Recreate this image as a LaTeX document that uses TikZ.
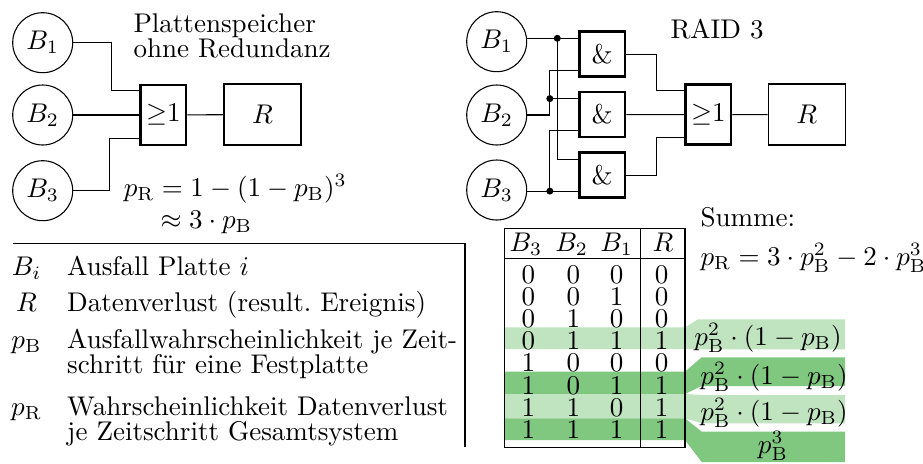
\documentclass[tikz,border=0pt]{standalone}
\usepackage{amsmath,amssymb}
\usepackage{xcolor}
\usepackage{tikz}
\usetikzlibrary{calc}
\definecolor{ink}{HTML}{000000}
\definecolor{bandLight}{HTML}{C0E4BF}
\definecolor{bandDark}{HTML}{80C77F}
\tikzset{
  diskCircle/.style={circle, draw=ink, line width=0.4pt, minimum size=22.2pt, inner sep=0pt},
  gateBox/.style={rectangle, draw=ink, line width=1pt, minimum width=16.9pt, minimum height=22.2pt, inner sep=0pt},
  andBox/.style={gateBox, minimum height=16.65pt},
  eventBox/.style={rectangle, draw=ink, line width=0.5pt, minimum width=28.5pt, minimum height=22.6pt, inner sep=0pt},
  wire/.style={draw=ink, line width=0.4pt},
  wireDot/.style={fill=ink},
  plainText/.style={inner sep=0pt, anchor=base west},
  tabCell/.style={inner sep=0pt, anchor=base}
}

\begin{document}
\begin{tikzpicture}[x=0.37pt,y=-0.37pt]
  \useasboundingbox (0,0) rectangle (923,463);

  % Plattenspeicher ohne Redundanz
  \node[diskCircle] (B1L) at (42.7,42.7) {$B_1$};
  \node[diskCircle] (B2L) at (42.7,115) {$B_2$};
  \node[diskCircle] (B3L) at (42.7,190.7) {$B_3$};
  \node[gateBox] (OR1) at (163.3,115) {${\geq}1$};
  \node[eventBox] (R1) at (262.5,114.5) {$R$};
  \coordinate (OR1in1) at ($(OR1.north west)!0.11!(OR1.south west)$);
  \coordinate (OR1in2) at ($(OR1.north west)!0.87!(OR1.south west)$);

  \draw[wire] (B1L.east) -- ++(38.3,0) |- (OR1in1);
  \draw[wire] (B2L) -- (OR1);
  \draw[wire] (B3L.east) -- ++(36.3,0) |- (OR1in2);
  \draw[wire] (OR1) -- (R1);

  \node[plainText] (title1a) at (133,32.3) {Plattenspeicher};
  \node[plainText] (title1b) at (133,57.3) {ohne Redundanz};
  \node[plainText] (formel1a) at (123.3,196) {$p_\mathrm{R} = 1-(1-p_\mathrm{B})^3$};
  \node[plainText] (formel1b) at (160,228) {$\approx 3\cdot p_\mathrm{B}$};

  % RAID 3
  \node[diskCircle] (B1) at (496.7,41.7) {$B_1$};
  \node[diskCircle] (B2) at (496.7,115) {$B_2$};
  \node[diskCircle] (B3) at (496.7,190) {$B_3$};
  \node[andBox] (A1) at (602.2,54.2) {\&};
  \node[andBox] (A2) at (602.2,114.5) {\&};
  \node[andBox] (A3) at (602.2,175.2) {\&};
  \node[gateBox] (OR2) at (708.3,114.7) {${\geq}1$};
  \node[eventBox] (R2) at (806.7,114.5) {$R$};
  \foreach \g in {A1,A2,A3} {
    \coordinate (\g in1) at ($(\g.north west)!0.1667!(\g.south west)$);
    \coordinate (\g in2) at ($(\g.north west)!0.8333!(\g.south west)$);
  }
  \coordinate (OR2in1) at ($(OR2.north west)!0.12!(OR2.south west)$);
  \coordinate (OR2in2) at ($(OR2.north west)!0.87!(OR2.south west)$);

  \draw[wire] (B1.east |- A1in1) -- (A1in1);
  \path (B1.east |- A1in1) ++(30,0) coordinate (j1);
  \draw[wire] (j1) |- (A3in1);
  \draw[wire] (B2.east) -- ++(22.6,0) coordinate (j2) |- (A1in2);
  \draw[wire] (j2 |- A2in1) -- (A2in1);
  \draw[wire] (B3.east |- A3in2) -- (A3in2);
  \draw[wire] (j2 |- A3in2) |- (A2in2);
  \fill[wireDot] (j1) circle[radius=1.3pt];
  \fill[wireDot] (j2 |- A2in1) circle[radius=1.3pt];
  \fill[wireDot] (j2 |- A3in2) circle[radius=1.3pt];

  \draw[wire] (A1.east) -- ++(30,0) |- (OR2in1);
  \draw[wire] (A2) -- (OR2);
  \draw[wire] (A3.east) -- ++(30,0) |- (OR2in2);
  \draw[wire] (OR2) -- (R2);

  \node[plainText] (title2) at (670,38.3) {RAID 3};

  % Legende
  \draw[wire] (13.3,243.3) -| (465,446.7);
  \node[tabCell] (symB) at (26.5,275) {$B_i$};
  \node[tabCell] (symR) at (26.5,311.7) {$R$};
  \node[tabCell] (sympB) at (26.5,348.3) {$p_\mathrm{B}$};
  \node[tabCell] (sympR) at (26.5,415) {$p_\mathrm{R}$};
  \node[plainText] (txtB) at (66.7,275) {Ausfall Platte $i$};
  \node[plainText] (txtR) at (66.7,311.7) {Datenverlust (result.\ Ereignis)};
  \node[plainText] (txtpBa) at (66.7,348.3) {Ausfallwahrscheinlichkeit je Zeit-};
  \node[plainText] (txtpBb) at (66.7,373.3) {schritt für eine Festplatte};
  \node[plainText] (txtpRa) at (66.7,415) {Wahrscheinlichkeit Datenverlust};
  \node[plainText] (txtpRb) at (66.7,440) {je Zeitschritt Gesamtsystem};

  % Wahrheitstabelle mit Summanden
  \fill[bandLight] (504.3,327.3) -- (685,327.3) -- (698,319.3) -- (845,319.3)
    -- (845,349.3) -- (698,349.3) -- (685,349) -- (504.3,349) -- cycle;
  \fill[bandDark] (504.3,371.7) -- (685,371.7) -- (701.7,357.3) -- (845,357.3)
    -- (845,386) -- (701.7,386) -- (685,394) -- (504.3,394) -- cycle;
  \fill[bandLight] (504.3,394) -- (685,394) -- (701.7,395) -- (845,395)
    -- (845,423.3) -- (701.7,423.3) -- (685,418.3) -- (504.3,418.3) -- cycle;
  \fill[bandDark] (504.3,418.3) -- (685,418.3) -- (701.7,431.7) -- (845,431.7)
    -- (845,462) -- (701.7,462) -- (685,440) -- (504.3,440) -- cycle;

  \draw[wire] (504.3,228.3) rectangle (685,447.7);
  \draw[wire] (504.3,258.3) -- (685,258.3);
  \draw[wire] (640.7,228.3) -- (640.7,447.7);
  \node[tabCell] (h3) at (526,251.7) {$B_3$};
  \node[tabCell] (h2) at (571.7,251.7) {$B_2$};
  \node[tabCell] (h1) at (616.7,251.7) {$B_1$};
  \node[tabCell] (hR) at (663,251.7) {$R$};
  \foreach \dThree/\dTwo/\dOne/\dR [count=\k from 0] in
      {0/0/0/0,0/0/1/0,0/1/0/0,0/1/1/1,1/0/0/0,1/0/1/1,1/1/0/1,1/1/1/1} {
    \pgfmathsetmacro\yrow{283.3+22.14*\k}
    \node[tabCell] (c\k-3) at (528.3,\yrow) {$\dThree$};
    \node[tabCell] (c\k-2) at (573.3,\yrow) {$\dTwo$};
    \node[tabCell] (c\k-1) at (616.7,\yrow) {$\dOne$};
    \node[tabCell] (c\k-R) at (661.7,\yrow) {$\dR$};
  }

  \node[tabCell] (s3) at (768,345) {$p_\mathrm{B}^2\cdot(1-p_\mathrm{B})$};
  \node[tabCell] (s5) at (774,384) {$p_\mathrm{B}^2\cdot(1-p_\mathrm{B})$};
  \node[tabCell] (s6) at (774,420) {$p_\mathrm{B}^2\cdot(1-p_\mathrm{B})$};
  \node[tabCell] (s7) at (773,453.3) {$p_\mathrm{B}^3$};

  \node[plainText] (summe) at (700,226.7) {Summe:};
  \node[plainText] (formel2) at (700,265) {$p_\mathrm{R} = 3\cdot p_\mathrm{B}^2 - 2\cdot p_\mathrm{B}^3$};
\end{tikzpicture}
\end{document}
